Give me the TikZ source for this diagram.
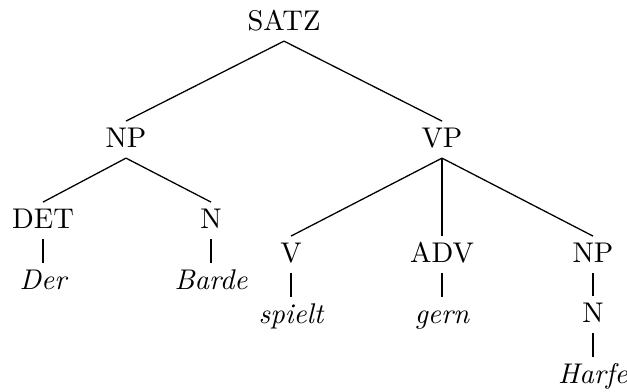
\documentclass[tikz,border=0pt]{standalone}
\begin{document}
\begin{tikzpicture}[x=0.351pt,y=-0.351pt,
  lab/.style={inner sep=0pt, outer sep=0pt, text height=9.1pt, text depth=3.9pt, anchor=base},
  leaf/.style={lab, font=\itshape},
  edge/.style={line width=0.45pt}]
\useasboundingbox (0,0) rectangle (627,391);
\node[lab] (satz) at (284,30) {SATZ};
\node[lab] (np) at (126,147) {NP};
\node[lab] (vp) at (442,147) {VP};
\node[lab] (det) at (43,228) {DET};
\node[lab] (n) at (211,228) {N};
\node[leaf] (der) at (43,289) {Der};
\node[leaf] (barde) at (211,289) {Barde};
\node[lab] (v) at (291,262) {V};
\node[lab] (adv) at (442,262) {ADV};
\node[lab] (np2) at (593,262) {NP};
\node[leaf] (spielt) at (291,323) {spielt};
\node[leaf] (gern) at (442,323) {gern};
\node[lab] (n2) at (593,322) {N};
\node[leaf] (harfe) at (593,383) {Harfe};
\draw[edge] (satz.south) -- (np.north);
\draw[edge] (satz.south) -- (vp.north);
\draw[edge] (np.south) -- (det.north);
\draw[edge] (np.south) -- (n.north);
\draw[edge] (det.south) -- (der.north);
\draw[edge] (n.south) -- (barde.north);
\draw[edge] (vp.south) -- (v.north);
\draw[edge] (vp.south) -- (adv.north);
\draw[edge] (vp.south) -- (np2.north);
\draw[edge] (v.south) -- (spielt.north);
\draw[edge] (adv.south) -- (gern.north);
\draw[edge] (np2.south) -- (n2.north);
\draw[edge] (n2.south) -- (harfe.north);
\end{tikzpicture}
\end{document}
